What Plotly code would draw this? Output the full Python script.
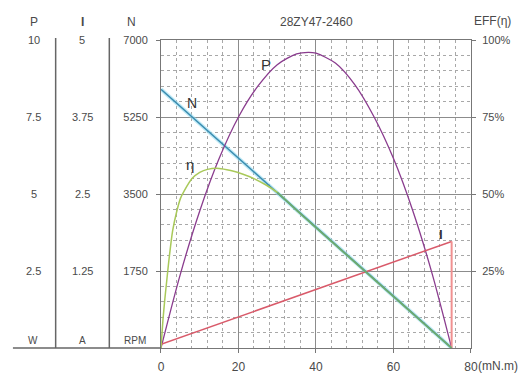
import plotly.graph_objects as go

# ---------------- data ----------------
title_text = "28ZY47-2460"

x_ticks = [0, 20, 40, 60, 80]
n_ticks = [1750, 3500, 5250, 7000]
p_ticks = [2.5, 5, 7.5, 10]
p_tick_text = ["2.5", "5", "7.5", "10"]
i_ticks = [1.25, 2.5, 3.75, 5]
i_tick_text = ["1.25", "2.5", "3.75", "5"]
eff_ticks = [25, 50, 75, 100]
eff_tick_text = ["25%", "50%", "75%", "100%"]

# speed N (rpm) vs torque (mN.m)
torque_n = [0, 75]
speed_n = [5880, 0]

# current I (A)
torque_i = [0, 75]
current_i = [0.06, 1.73]

# output power P (W)
torque_p = [0, 5, 10, 15, 20, 25, 30, 35, 38, 40, 45, 50, 55, 60, 65, 70, 75]
power_p = [0, 2.4, 4.45, 6.15, 7.5, 8.5, 9.2, 9.55, 9.6, 9.57, 9.25, 8.55, 7.5, 6.15, 4.45, 2.4, 0]

# efficiency (%)
torque_e = [0, 0.5, 1, 1.5, 2, 3, 4, 5, 6, 8, 10, 12, 15, 18, 21, 24, 27, 30,
            35, 40, 45, 50, 55, 60, 65, 70, 75]
eff_e = [0, 9, 16, 22, 28, 38, 44, 48.5, 51, 55, 57, 58, 58.3, 57.6, 56.5, 55, 53, 50.5,
         44.7, 39.1, 33.5, 27.9, 22.3, 16.7, 11.1, 5.5, 0]

# ---------------- styles ----------------
FONT = "Arial, Liberation Sans, sans-serif"
TXT = "#4a4a4a"
C_N = "#3a8cb0"
C_P = "#8a3c8e"
C_E = "#a9c95a"
C_I = "#d95a6a"
C_I2 = "#f09090"

W, H = 527, 375
ML, MR, MT, MB = 0, 56, 40, 27
PW = W - ML - MR
PH = H - MT - MB
PLOT_L = 159  # px of left plot edge


def px(xp):
    return (xp - ML) / PW


def py(yp):
    return (H - MB - yp) / PH


fig = go.Figure()

# N line (with light halo)
fig.add_trace(go.Scatter(x=torque_n, y=speed_n, mode="lines", yaxis="y",
                         line=dict(color="rgba(150,220,240,0.6)", width=4),
                         hoverinfo="skip", showlegend=False))
fig.add_trace(go.Scatter(x=torque_n, y=speed_n, mode="lines", yaxis="y",
                         line=dict(color=C_N, width=1.5), name="N", showlegend=False))
# I line
fig.add_trace(go.Scatter(x=torque_i, y=current_i, mode="lines", yaxis="y3",
                         line=dict(color=C_I, width=1.5), name="I", showlegend=False))
fig.add_trace(go.Scatter(x=[torque_i[-1], torque_i[-1]], y=[current_i[-1], 0],
                         mode="lines", yaxis="y3",
                         line=dict(color=C_I2, width=2), hoverinfo="skip", showlegend=False))
# P curve
fig.add_trace(go.Scatter(x=torque_p, y=power_p, mode="lines", yaxis="y2",
                         line=dict(color=C_P, width=1.3, shape="spline", smoothing=0.8),
                         name="P", showlegend=False))
# efficiency
fig.add_trace(go.Scatter(x=torque_e, y=eff_e, mode="lines", yaxis="y4",
                         line=dict(color=C_E, width=1.5, shape="spline", smoothing=0.6),
                         name="EFF", showlegend=False))
fig.add_trace(go.Scatter(x=torque_e[17:], y=eff_e[17:], mode="lines", yaxis="y4",
                         line=dict(color="rgba(90,160,120,0.75)", width=2),
                         hoverinfo="skip", showlegend=False))

grid_major = "#8c8c8c"
grid_minor = "#a8a8a8"

fig.update_layout(
    width=W, height=H,
    margin=dict(l=ML, r=MR, t=MT, b=MB, pad=0),
    paper_bgcolor="white", plot_bgcolor="white",
    font=dict(family=FONT, size=11, color=TXT),
    showlegend=False,
    xaxis=dict(domain=[px(PLOT_L), 1], range=[0, 80], tickvals=x_ticks,
               ticktext=[str(v) for v in x_ticks],
               showgrid=True, gridcolor=grid_major, gridwidth=1,
               minor=dict(dtick=4, tick0=0, showgrid=True, gridcolor=grid_minor,
                          griddash="dot", gridwidth=1),
               ticks="outside", ticklen=4, tickcolor="#777", ticklabelstandoff=4,
               showline=True, linecolor="#777", linewidth=1, mirror=True,
               zeroline=False, tickfont=dict(size=12, color=TXT)),
    yaxis=dict(range=[0, 7000], tickvals=n_ticks, ticktext=[str(v) for v in n_ticks],
               showgrid=True, gridcolor=grid_major, gridwidth=1,
               minor=dict(dtick=350, tick0=0, showgrid=True, gridcolor=grid_minor,
                          griddash="dot", gridwidth=1),
               ticks="outside", ticklen=4, tickcolor="#777", ticklabelstandoff=6,
               showline=True, linecolor="#777", linewidth=1, mirror=True,
               zeroline=False, tickfont=dict(size=11, color=TXT)),
    yaxis2=dict(range=[0, 10], overlaying="y", anchor="free", position=0,
                showgrid=False, showticklabels=False, ticks="", zeroline=False,
                showline=False),
    yaxis3=dict(range=[0, 5], overlaying="y", anchor="free", position=0,
                showgrid=False, showticklabels=False, ticks="", zeroline=False,
                showline=False),
    yaxis4=dict(range=[0, 100], overlaying="y", anchor="x", side="right",
                tickvals=eff_ticks, ticktext=eff_tick_text,
                showgrid=False, zeroline=False, showline=False,
                ticks="outside", ticklen=4, tickcolor="#777", ticklabelstandoff=4,
                tickfont=dict(size=11, color=TXT)),
)

ann = []
# column tick labels for P and I (placed on their own axis scales)
for v, t in zip(p_ticks, p_tick_text):
    ann.append(dict(x=px(31), xref="paper", y=v, yref="y2", text=t, showarrow=False,
                    xanchor="center", yanchor="middle", font=dict(size=11, color=TXT)))
for v, t in zip(i_ticks, i_tick_text):
    ann.append(dict(x=px(80), xref="paper", y=v, yref="y3", text=t, showarrow=False,
                    xanchor="center", yanchor="middle", font=dict(size=11, color=TXT)))

# headers and units
for txt, xp, yp, bold in [("P", 31, 22, False), ("I", 80, 22, True), ("N", 129, 22, False),
                          ("W", 30, 340, False), ("A", 80, 340, False), ("RPM", 133, 340, False)]:
    ann.append(dict(x=px(xp), xref="paper", y=py(yp), yref="paper",
                    text=f"<b>{txt}</b>" if bold else txt, showarrow=False,
                    xanchor="center", yanchor="middle",
                    font=dict(size=12 if yp < 100 else 10, color=TXT)))

ann.append(dict(x=px(316), xref="paper", y=py(22), yref="paper", text=title_text,
                showarrow=False, xanchor="center", yanchor="middle",
                font=dict(size=12, color=TXT)))
ann.append(dict(x=px(493), xref="paper", y=py(21), yref="paper", text="EFF(η)",
                showarrow=False, xanchor="center", yanchor="middle",
                font=dict(size=12, color=TXT)))
ann.append(dict(x=px(476), xref="paper", y=py(366), yref="paper", text="(mN.m)",
                showarrow=False, xanchor="left", yanchor="middle",
                font=dict(size=12, color=TXT)))

# curve labels
ann.append(dict(x=27, xref="x", y=9.2, yref="y2", text="P", showarrow=False,
                font=dict(size=15, color="#333")))
ann.append(dict(x=8, xref="x", y=5570, yref="y", text="N", showarrow=False,
                font=dict(size=14, color="#333")))
ann.append(dict(x=7.4, xref="x", y=59.5, yref="y4", text="η", showarrow=False,
                font=dict(size=15, color="#333")))
ann.append(dict(x=72.3, xref="x", y=1.85, yref="y3", text="<b>I</b>", showarrow=False,
                font=dict(size=13, color="#333")))

fig.update_layout(annotations=ann)

# column separators and baseline
shapes = [
    dict(type="line", xref="paper", yref="paper", x0=px(53), x1=px(53), y0=0, y1=py(38),
         line=dict(color="#666", width=1.5)),
    dict(type="line", xref="paper", yref="paper", x0=px(107), x1=px(107), y0=0, y1=py(38),
         line=dict(color="#666", width=1.5)),
    dict(type="line", xref="paper", yref="paper", x0=px(10), x1=px(PLOT_L), y0=0, y1=0,
         line=dict(color="#666", width=1.5)),
]
fig.update_layout(shapes=shapes)

fig.write_html("out.html", config={"displayModeBar": False},
               post_script="document.body.style.margin='0';document.body.style.padding='0';")
